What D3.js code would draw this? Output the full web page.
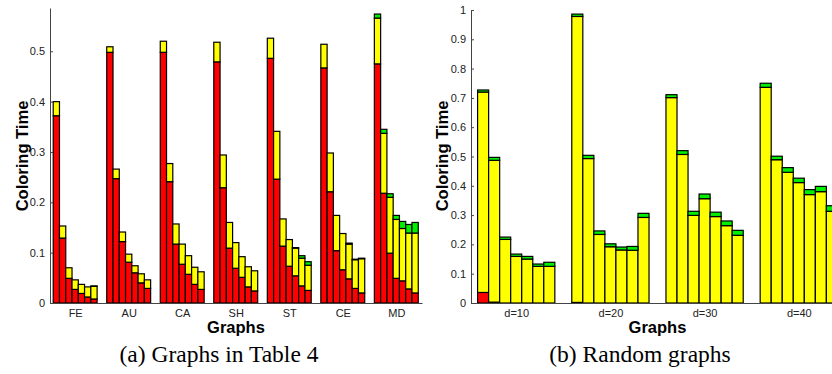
<!DOCTYPE html>
<html>
<head>
<meta charset="utf-8">
<script src="https://cdn.jsdelivr.net/npm/d3@7"></script>
<style>
  body { margin: 0; background: #fff; }
  svg text { font-family: "Liberation Sans", Arial, Helvetica, sans-serif; }
</style>
</head>
<body>
<div id="fig"></div>
<script>
// (a) graphs in table 4 : 7 graphs, 7 bars each (red / yellow / green segments)
var graphNames = ["FE", "AU", "CA", "SH", "ST", "CE", "MD"];
var tableRed = [
  [0.372, 0.129, 0.049, 0.027, 0.019, 0.012, 0.008],
  [0.498, 0.247, 0.122, 0.081, 0.060, 0.040, 0.029],
  [0.498, 0.241, 0.117, 0.077, 0.057, 0.037, 0.027],
  [0.479, 0.229, 0.109, 0.069, 0.051, 0.032, 0.024],
  [0.486, 0.246, 0.113, 0.073, 0.054, 0.034, 0.025],
  [0.467, 0.221, 0.104, 0.066, 0.048, 0.029, 0.020],
  [0.475, 0.218, 0.099, 0.049, 0.044, 0.028, 0.020]
];
var tableYellow = [
  [0.028, 0.024, 0.021, 0.019, 0.018, 0.020, 0.025],
  [0.011, 0.019, 0.019, 0.016, 0.014, 0.018, 0.017],
  [0.022, 0.036, 0.040, 0.040, 0.037, 0.034, 0.035],
  [0.039, 0.065, 0.051, 0.051, 0.041, 0.040, 0.040],
  [0.040, 0.095, 0.054, 0.053, 0.055, 0.055, 0.050],
  [0.047, 0.077, 0.070, 0.072, 0.069, 0.057, 0.068],
  [0.091, 0.119, 0.111, 0.117, 0.104, 0.111, 0.119]
];
var tableGreen = [
  [0, 0, 0, 0, 0, 0, 0.001],
  [0, 0, 0, 0, 0, 0, 0],
  [0, 0, 0, 0, 0, 0, 0],
  [0, 0, 0, 0, 0, 0, 0],
  [0, 0, 0, 0, 0.001, 0.005, 0.007],
  [0, 0, 0, 0, 0.002, 0.001, 0.001],
  [0.008, 0.008, 0.007, 0.008, 0.014, 0.017, 0.021]
];
var tableTicks = [0, 0.1, 0.2, 0.3, 0.4, 0.5];

// (b) random graphs
var degreeNames = ["d=10", "d=20", "d=30", "d=40"];
var randRed = [
  [0.036, 0.003, 0, 0, 0, 0, 0],
  [0.002, 0, 0, 0, 0, 0, 0],
  [0, 0, 0, 0, 0, 0, 0],
  [0, 0, 0, 0, 0, 0, 0]
];
var randYellow = [
  [0.684, 0.484, 0.217, 0.159, 0.150, 0.125, 0.125],
  [0.976, 0.493, 0.234, 0.192, 0.181, 0.180, 0.292],
  [0.701, 0.507, 0.299, 0.356, 0.295, 0.264, 0.231],
  [0.736, 0.489, 0.446, 0.411, 0.370, 0.380, 0.313]
];
var randGreen = [
  [0.007, 0.010, 0.008, 0.008, 0.009, 0.008, 0.014],
  [0.008, 0.011, 0.012, 0.010, 0.010, 0.013, 0.014],
  [0.010, 0.013, 0.014, 0.016, 0.015, 0.016, 0.017],
  [0.014, 0.012, 0.016, 0.015, 0.017, 0.018, 0.019]
];
var randTicks = [0, 0.1, 0.2, 0.3, 0.4, 0.5, 0.6, 0.7, 0.8, 0.9, 1];

var W = 832, H = 374;
var svg = d3.select("#fig").append("svg")
    .attr("width", W)
    .attr("height", H);

var colors = { red: "#ff0000", yellow: "#ffff00", green: "#00ee00" };
var groupWidth = 0.82;

function drawPanel(o) {
  var x = d3.scaleLinear().domain(o.xDomain).range(o.xRange);
  var y = d3.scaleLinear().domain(o.yDomain).range([303, o.yTop]);
  var g = svg.append("g");

  var rows = [];
  o.red.forEach(function(grp, gi) {
    grp.forEach(function(v, bi) {
      rows.push({ g: gi + 1, b: bi, red: v, yellow: o.yellow[gi][bi], green: o.green[gi][bi] });
    });
  });
  var n = o.red[0].length;
  var bw = groupWidth / n;
  var series = d3.stack().keys(["red", "yellow", "green"])(rows);

  series.forEach(function(s) {
    g.selectAll(null)
        .data(s.filter(function(d) { return d[1] - d[0] > 0; }))
      .enter().append("rect")
        .attr("x", function(d) { return x(d.data.g - groupWidth / 2 + d.data.b * bw); })
        .attr("width", x(bw) - x(0))
        .attr("y", function(d) { return y(d[1]); })
        .attr("height", function(d) { return y(d[0]) - y(d[1]); })
        .attr("fill", colors[s.key])
        .attr("stroke", "#000")
        .attr("stroke-width", 1.2);
  });

  // axes
  var ya = g.append("g")
      .attr("transform", "translate(" + o.xRange[0] + ",0)")
      .call(d3.axisLeft(y).tickValues(o.ticks).tickFormat(d3.format("~g"))
        .tickSize(-3).tickSizeOuter(0).tickPadding(5));
  var xa = g.append("g")
      .attr("transform", "translate(0,303)")
      .call(d3.axisBottom(x).tickValues(d3.range(1, o.names.length + 1))
        .tickFormat(function(d) { return o.names[d - 1]; })
        .tickSize(0).tickSizeOuter(0).tickPadding(6));
  [ya, xa].forEach(function(a) {
    a.select(".domain").attr("stroke", "#444");
    a.selectAll(".tick line").attr("stroke", "#444");
    a.selectAll("text").attr("font-size", 11).attr("fill", "#222")
      .attr("font-family", "Liberation Sans, Arial, sans-serif");
  });

  g.append("text")
      .attr("transform", "translate(" + o.yLabelX + ",156) rotate(-90)")
      .attr("text-anchor", "middle")
      .attr("font-size", 16.5)
      .attr("font-weight", "bold")
      .text("Coloring Time");

  g.append("text")
      .attr("x", (o.xRange[0] + o.xRange[1]) / 2)
      .attr("y", 333)
      .attr("text-anchor", "middle")
      .attr("font-size", 16.5)
      .attr("font-weight", "bold")
      .text("Graphs");

  g.append("text")
      .attr("x", o.captionX)
      .attr("y", 362)
      .attr("text-anchor", "middle")
      .style("font-family", "'Liberation Serif', 'Times New Roman', serif")
      .attr("font-size", 23.5)
      .text(o.caption);
}

drawPanel({
  names: graphNames, red: tableRed, yellow: tableYellow, green: tableGreen, ticks: tableTicks,
  xDomain: [0.53, 7.48], xRange: [50, 422],
  yDomain: [0, 0.586], yTop: 8,
  yLabelX: 28, captionX: 219, caption: "(a) Graphs in Table 4"
});

drawPanel({
  names: degreeNames, red: randRed, yellow: randYellow, green: randGreen, ticks: randTicks,
  xDomain: [0.52, 4.48], xRange: [471, 844],
  yDomain: [0, 1], yTop: 10,
  yLabelX: 448, captionX: 640, caption: "(b) Random graphs"
});
</script>
</body>
</html>
